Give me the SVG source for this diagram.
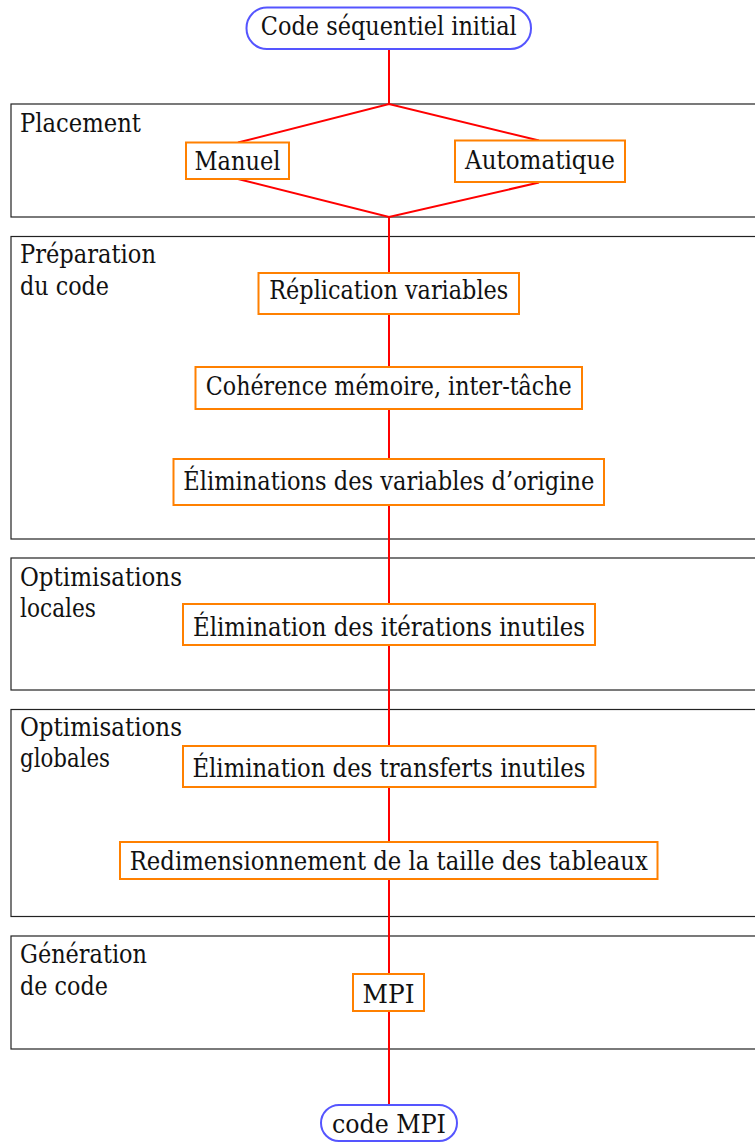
<svg xmlns="http://www.w3.org/2000/svg" width="755" height="1142" viewBox="0 0 755 1142">
<style>
text{font-family:'DejaVu Serif','Liberation Serif',serif;font-size:25.5px;fill:#111}
.c{text-anchor:middle}
.grp{fill:none;stroke:#222;stroke-width:1.2}
.box{fill:#fff;stroke:#ff8000;stroke-width:2}
.term{fill:#fff;stroke:#5555ff;stroke-width:2}
.edge{fill:none;stroke:#ff0000;stroke-width:2}
</style>
<rect width="755" height="1142" fill="#fff"/>
<g id="groups">
<g id="g-placement"><rect class="grp" x="11" y="104" width="760" height="113"/><text x="20" y="132" textLength="121" lengthAdjust="spacingAndGlyphs">Placement</text></g>
<g id="g-preparation"><rect class="grp" x="11" y="236.5" width="760" height="302.5"/><text x="20" y="263" textLength="136" lengthAdjust="spacingAndGlyphs">Préparation</text><text x="20" y="295" textLength="89" lengthAdjust="spacingAndGlyphs">du code</text></g>
<g id="g-optlocales"><rect class="grp" x="11" y="558" width="760" height="132"/><text x="20" y="586" textLength="162" lengthAdjust="spacingAndGlyphs">Optimisations</text><text x="20" y="617" textLength="76" lengthAdjust="spacingAndGlyphs">locales</text></g>
<g id="g-optglobales"><rect class="grp" x="11" y="709.5" width="760" height="207"/><text x="20" y="736" textLength="162" lengthAdjust="spacingAndGlyphs">Optimisations</text><text x="20" y="767" textLength="90" lengthAdjust="spacingAndGlyphs">globales</text></g>
<g id="g-generation"><rect class="grp" x="11" y="936" width="760" height="113"/><text x="20" y="963" textLength="127" lengthAdjust="spacingAndGlyphs">Génération</text><text x="20" y="995" textLength="88" lengthAdjust="spacingAndGlyphs">de code</text></g>
</g>
<g id="connectors">
<line class="edge" x1="389" y1="49" x2="389" y2="104"/>
<polyline class="edge" points="238,142.5 389,104 539,140.5"/>
<polyline class="edge" points="238,179 389,217 539,182.5"/>
<line class="edge" x1="389" y1="217" x2="389" y2="273"/>
<line class="edge" x1="389" y1="314" x2="389" y2="367"/>
<line class="edge" x1="389" y1="409" x2="389" y2="459"/>
<line class="edge" x1="389" y1="505" x2="389" y2="604"/>
<line class="edge" x1="389" y1="645" x2="389" y2="746"/>
<line class="edge" x1="389" y1="787" x2="389" y2="842"/>
<line class="edge" x1="389" y1="879" x2="389" y2="974"/>
<line class="edge" x1="389" y1="1011" x2="389" y2="1105"/>
</g>
<g id="n-start"><rect class="term" x="246.5" y="7.5" width="284.5" height="41.5" rx="20.5"/><text class="c" x="388.75" y="35" textLength="256" lengthAdjust="spacingAndGlyphs">Code séquentiel initial</text></g>
<g id="n-manuel"><rect class="box" x="186" y="142.5" width="103" height="36.5"/><text class="c" x="237.5" y="170" textLength="86" lengthAdjust="spacingAndGlyphs">Manuel</text></g>
<g id="n-auto"><rect class="box" x="455" y="140.5" width="170" height="41.5"/><text class="c" x="540" y="168.5" textLength="150" lengthAdjust="spacingAndGlyphs">Automatique</text></g>
<g id="n-replication"><rect class="box" x="258.5" y="273" width="260.5" height="41"/><text class="c" x="388.75" y="299" textLength="239" lengthAdjust="spacingAndGlyphs">Réplication variables</text></g>
<g id="n-coherence"><rect class="box" x="195.5" y="367" width="386.5" height="42"/><text class="c" x="388.75" y="395" textLength="366" lengthAdjust="spacingAndGlyphs">Cohérence mémoire, inter-tâche</text></g>
<g id="n-eliminations"><rect class="box" x="173.5" y="459" width="430.5" height="46"/><text class="c" x="388.75" y="490" textLength="411" lengthAdjust="spacingAndGlyphs">Éliminations des variables d’origine</text></g>
<g id="n-iterations"><rect class="box" x="183" y="604" width="412" height="41"/><text class="c" x="389" y="636" textLength="392" lengthAdjust="spacingAndGlyphs">Élimination des itérations inutiles</text></g>
<g id="n-transferts"><rect class="box" x="183" y="746" width="412.5" height="41"/><text class="c" x="389" y="777" textLength="393" lengthAdjust="spacingAndGlyphs">Élimination des transferts inutiles</text></g>
<g id="n-redim"><rect class="box" x="120" y="842" width="537.5" height="37"/><text class="c" x="388.75" y="870" textLength="518" lengthAdjust="spacingAndGlyphs">Redimensionnement de la taille des tableaux</text></g>
<g id="n-mpi"><rect class="box" x="353" y="974" width="71" height="37"/><text class="c" x="388.5" y="1003" textLength="52" lengthAdjust="spacingAndGlyphs">MPI</text></g>
<g id="n-end"><rect class="term" x="321" y="1105" width="136" height="36" rx="18"/><text class="c" x="389" y="1133" textLength="114" lengthAdjust="spacingAndGlyphs">code MPI</text></g>
</svg>
